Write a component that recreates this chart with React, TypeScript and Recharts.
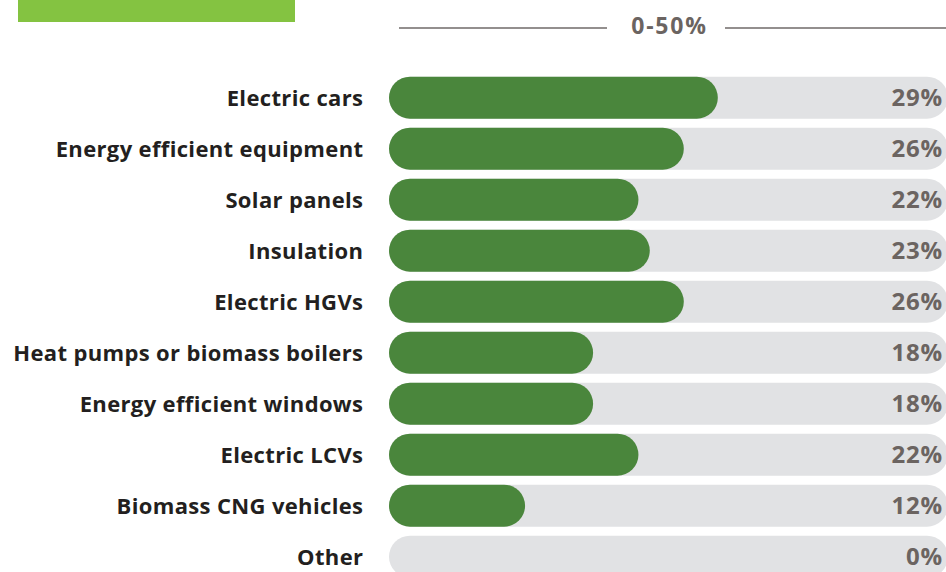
import React from 'react';
import { BarChart, Bar, XAxis, YAxis, LabelList } from 'recharts';

const categories = [
  'Electric cars',
  'Energy efficient equipment',
  'Solar panels',
  'Insulation',
  'Electric HGVs',
  'Heat pumps or biomass boilers',
  'Energy efficient windows',
  'Electric LCVs',
  'Biomass CNG vehicles',
  'Other',
];
const values = [29, 26, 22, 23, 26, 18, 18, 22, 12, 0];
const valueLabels = ['29%', '26%', '22%', '23%', '26%', '18%', '18%', '22%', '12%', '0%'];
const rangeLabel = '0-50%';
const domainMax = 49.3;

const data = categories.map((c, i) => ({
  name: c,
  value: values[i],
  track: domainMax,
  label: valueLabels[i],
}));

const FONT = '"Open Sans", Inter, sans-serif';
const GREEN = '#4a863c';
const TRACK = '#e1e2e4';
const GREY_TEXT = '#6b6461';

const CategoryTick = (p: any) => (
  <text
    x={p.x + 0.35}
    y={p.y}
    dy={7.5}
    textAnchor="end"
    fill="#231f20"
    fontFamily={FONT}
    fontWeight={700}
    fontSize={22}
    letterSpacing={0.35}
  >
    {p.payload.value}
  </text>
);

export default function App() {
  return (
    <div
      style={{
        position: 'absolute',
        left: 0,
        top: 0,
        width: 946,
        height: 572,
        overflow: 'hidden',
        background: '#ffffff',
      }}
    >
      <div
        style={{
          position: 'absolute',
          left: 18,
          top: 0,
          width: 277,
          height: 22,
          background: '#84c341',
        }}
      />
      <svg width={946} height={60} style={{ position: 'absolute', left: 0, top: 0 }}>
        <line x1={399} x2={607} y1={28} y2={28} stroke="#6f6a68" strokeWidth={1.5} />
        <line x1={725} x2={946} y1={28} y2={28} stroke="#6f6a68" strokeWidth={1.5} />
        <text
          x={669.5}
          y={33.5}
          textAnchor="middle"
          fill={GREY_TEXT}
          fontFamily={FONT}
          fontWeight={700}
          fontSize={23}
          letterSpacing={1.8}
        >
          {rangeLabel}
        </text>
      </svg>
      <div style={{ position: 'absolute', left: 0, top: 0 }}>
        <BarChart
          width={948}
          height={600}
          data={data}
          layout="vertical"
          margin={{ top: 72.7, right: 0, bottom: 17.3, left: 0 }}
          barGap={-42}
        >
          <XAxis type="number" domain={[0, domainMax]} hide />
          <YAxis
            type="category"
            dataKey="name"
            width={389}
            axisLine={false}
            tickLine={false}
            tickSize={6}
            tickMargin={20}
            tick={<CategoryTick />}
            interval={0}
          />
          <Bar
            dataKey="track"
            fill={TRACK}
            barSize={42}
            radius={21}
            isAnimationActive={false}
          >
            <LabelList
              dataKey="label"
              position="insideRight"
              offset={5}
              fill={GREY_TEXT}
              fontFamily={FONT}
              fontWeight={700}
              fontSize={24}
              letterSpacing={0.8}
            />
          </Bar>
          <Bar
            dataKey="value"
            fill={GREEN}
            barSize={42}
            radius={21}
            isAnimationActive={false}
          />
        </BarChart>
      </div>
    </div>
  );
}
